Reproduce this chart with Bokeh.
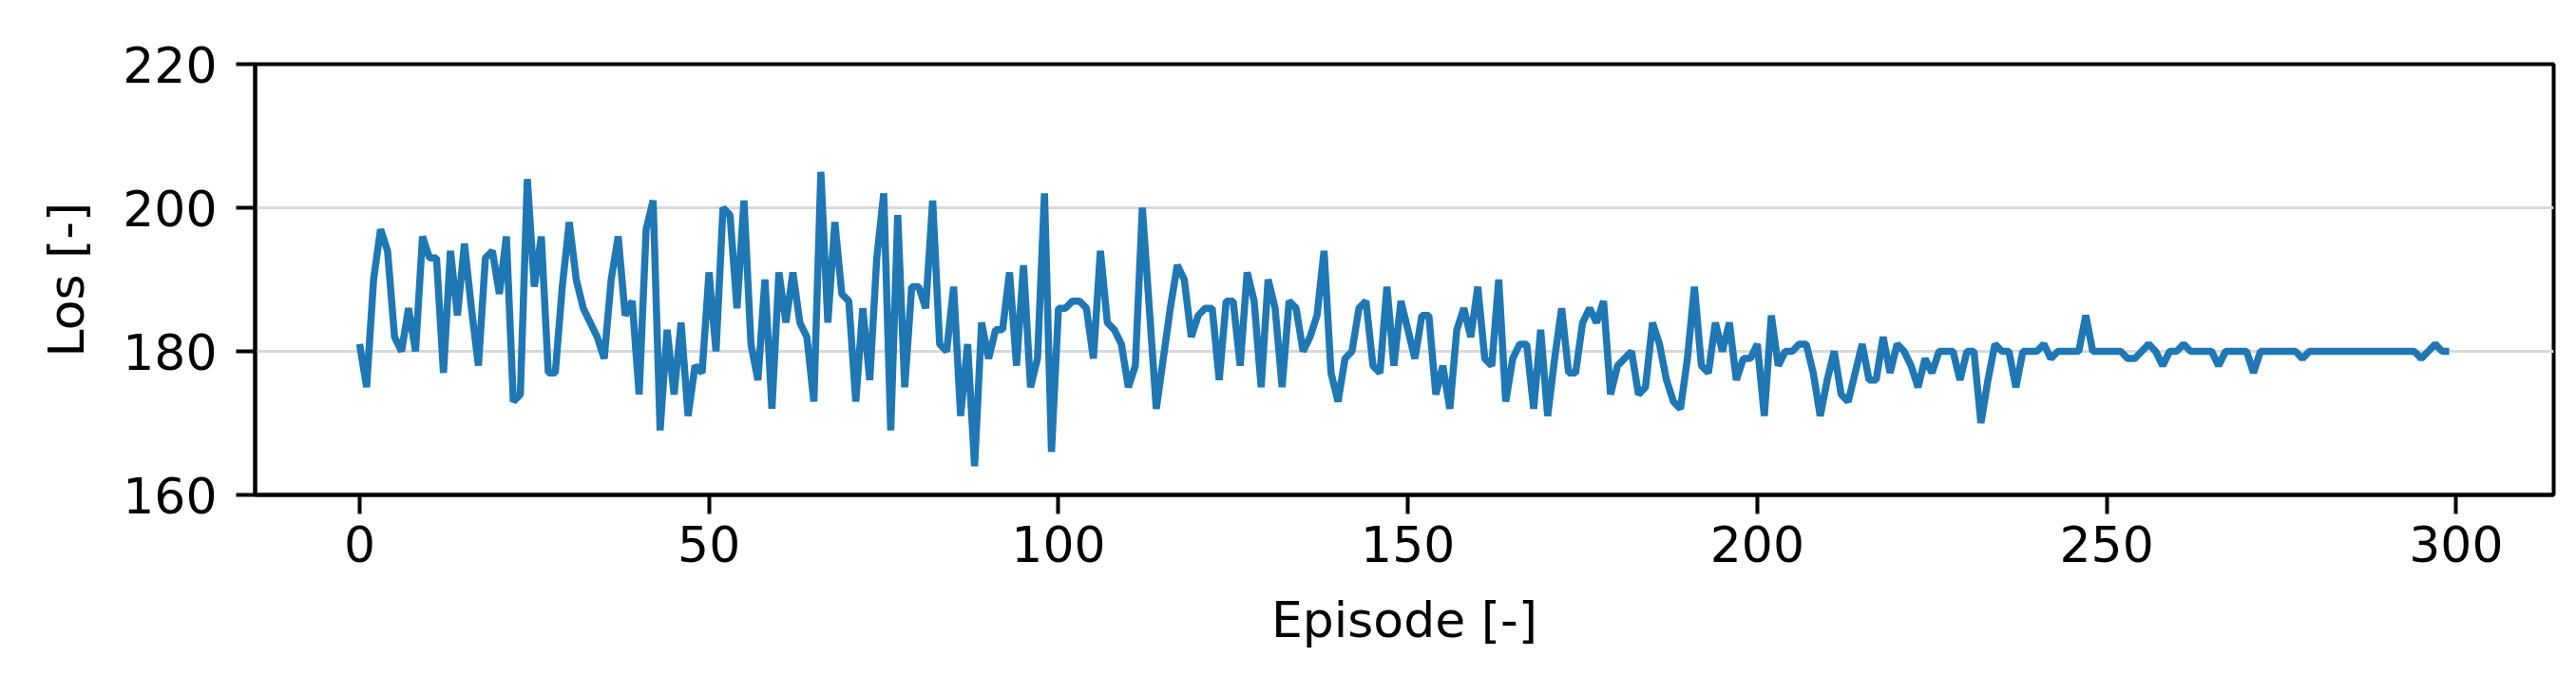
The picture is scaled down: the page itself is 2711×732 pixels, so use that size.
from bokeh.plotting import figure
from bokeh.models import Range1d, FixedTicker
from bokeh.embed import file_html
from bokeh.resources import INLINE

los = [
    181, 175, 190, 197, 194, 182, 180, 186, 180, 196,
    193, 193, 177, 194, 185, 195, 186, 178, 193, 194,
    188, 196, 173, 174, 204, 189, 196, 177, 177, 189,
    198, 190, 186, 184, 182, 179, 190, 196, 185, 187,
    174, 197, 201, 169, 183, 174, 184, 171, 178, 177,
    191, 180, 200, 199, 186, 201, 181, 176, 190, 172,
    191, 184, 191, 184, 182, 173, 205, 184, 198, 188,
    187, 173, 186, 176, 193, 202, 169, 199, 175, 189,
    189, 186, 201, 181, 180, 189, 171, 181, 164, 184,
    179, 183, 183, 191, 178, 192, 175, 179, 202, 166,
    186, 186, 187, 187, 186, 179, 194, 184, 183, 181,
    175, 178, 200, 186, 172, 179, 186, 192, 190, 182,
    185, 186, 186, 176, 187, 187, 178, 191, 187, 175,
    190, 186, 175, 187, 186, 180, 182, 185, 194, 177,
    173, 179, 180, 186, 187, 178, 177, 189, 178, 187,
    183, 179, 185, 185, 174, 178, 172, 183, 186, 182,
    189, 179, 178, 190, 173, 179, 181, 181, 172, 183,
    171, 179, 186, 177, 177, 184, 186, 184, 187, 174,
    178, 179, 180, 174, 175, 184, 181, 176, 173, 172,
    179, 189, 178, 177, 184, 180, 184, 176, 179, 179,
    181, 171, 185, 178, 180, 180, 181, 181, 177, 171,
    176, 180, 174, 173, 177, 181, 176, 176, 182, 177,
    181, 180, 178, 175, 179, 177, 180, 180, 180, 176,
    180, 180, 170, 176, 181, 180, 180, 175, 180, 180,
    180, 181, 179, 180, 180, 180, 180, 185, 180, 180,
    180, 180, 180, 179, 179, 180, 181, 180, 178, 180,
    180, 181, 180, 180, 180, 180, 178, 180, 180, 180,
    180, 177, 180, 180, 180, 180, 180, 180, 179, 180,
    180, 180, 180, 180, 180, 180, 180, 180, 180, 180,
    180, 180, 180, 180, 180, 179, 180, 181, 180, 180,
]
episodes = list(range(len(los)))
x_ticks = [0, 50, 100, 150, 200, 250, 300]
y_ticks = [160, 180, 200, 220]

FONT = "DejaVu Sans"
FS = "52px"

p = figure(width=2705, height=728,
           x_range=Range1d(-14.95, 313.95), y_range=Range1d(160, 220),
           output_backend="svg", toolbar_location=None,
           min_border_left=268, min_border_right=18,
           min_border_top=67, min_border_bottom=208)

p.line(episodes, los, line_color="#1f77b4", line_width=7.5)

p.xgrid.visible = False
p.ygrid.grid_line_color = "#d9d9d9"
p.ygrid.grid_line_width = 3

p.outline_line_color = "black"
p.outline_line_width = 4
p.outline_line_alpha = 1

p.xaxis.ticker = FixedTicker(ticks=x_ticks)
p.yaxis.ticker = FixedTicker(ticks=y_ticks)
p.xaxis.axis_label = "Episode [-]"
p.yaxis.axis_label = "Los [-]"

for ax in (p.xaxis, p.yaxis):
    ax.axis_line_width = 4
    ax.axis_line_color = "black"
    ax.major_tick_line_width = 4
    ax.major_tick_line_color = "black"
    ax.major_tick_out = 20
    ax.major_tick_in = 0
    ax.minor_tick_line_color = None
    ax.major_label_text_font = FONT
    ax.major_label_text_font_size = FS
    ax.major_label_text_color = "black"
    ax.axis_label_text_font = FONT
    ax.axis_label_text_font_size = FS
    ax.axis_label_text_font_style = "normal"
    ax.axis_label_text_color = "black"

p.xaxis.major_label_standoff = 12
p.yaxis.major_label_standoff = 20
p.xaxis.axis_label_standoff = 28
p.yaxis.axis_label_standoff = 26

open("out.html", "w").write(file_html(p, INLINE))
